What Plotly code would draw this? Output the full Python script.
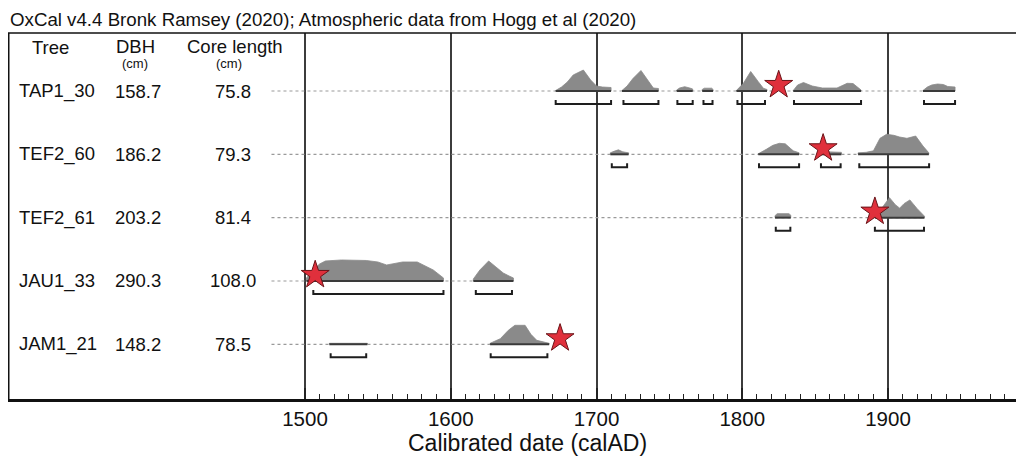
import plotly.graph_objects as go

# ---------------- data ----------------
trees = ["TAP1_30", "TEF2_60", "TEF2_61", "JAU1_33", "JAM1_21"]
dbh = ["158.7", "186.2", "203.2", "290.3", "148.2"]
core_length = ["75.8", "79.3", "81.4", "108.0", "78.5"]
star_year = [1825, 1855.5, 1891, 1507, 1675]
line_start = 1477
line_end = [1946, 1928, 1925, 1643, 1667.5]

# probability distributions (calendar year, relative density)
tap1_d1_x = [1672, 1676, 1680, 1684, 1691, 1696, 1700, 1704, 1710]
tap1_d1_h = [0.5, 4, 9, 16, 21, 11, 5, 4, 3.5]
tap1_d2_x = [1717.5, 1721, 1725, 1730.5, 1735.5, 1739, 1742.5]
tap1_d2_h = [0.5, 5, 12.5, 20.5, 10, 3, 2.5]
tap1_d3_x = [1755, 1757, 1760.5, 1764, 1766]
tap1_d3_h = [1, 3, 4.3, 3, 2]
tap1_d4_x = [1772.5, 1774, 1776.5, 1779, 1780]
tap1_d4_h = [1.5, 2.8, 3, 2.8, 1.5]
tap1_d5_x = [1796, 1800.8, 1805.8, 1811, 1814.5, 1817]
tap1_d5_h = [0.5, 7.7, 19.5, 9.3, 2.7, 1.5]
tap1_d6_x = [1835, 1838, 1842, 1848, 1855, 1865, 1870, 1872, 1876, 1879, 1881.5]
tap1_d6_h = [0.5, 6, 8.5, 5, 3, 3, 6, 7.7, 7.5, 4, 1]
tap1_d7_x = [1924, 1927, 1930, 1934, 1938, 1941, 1946]
tap1_d7_h = [0.5, 4, 6, 7, 6.5, 4.5, 4]

tef60_d1_x = [1709.5, 1712, 1715, 1718, 1722]
tef60_d1_h = [1.5, 3, 4.5, 2.5, 1.5]
tef60_d2_x = [1811, 1816.5, 1821, 1825.5, 1829.5, 1833, 1835, 1839]
tef60_d2_h = [0.5, 5, 9, 11, 10.5, 6, 3.5, 1.5]
tef60_d3_x = [1854, 1858, 1862, 1866, 1868]
tef60_d3_h = [1.5, 2.5, 2.5, 2.5, 2]
tef60_d4_x = [1879.5, 1885, 1890, 1894.5, 1899, 1904, 1908, 1913, 1919, 1924, 1928]
tef60_d4_h = [1.5, 2, 3.5, 16, 20, 19, 17.3, 16, 18.3, 8.3, 1.5]

tef61_d1_x = [1822.5, 1824, 1828, 1832, 1833.3]
tef61_d1_h = [2, 4, 4.3, 4, 2.5]
tef61_d2_x = [1891, 1895, 1901, 1905, 1908, 1911, 1915, 1920, 1925]
tef61_d2_h = [2, 8, 20, 13, 9.5, 14, 17.7, 9, 1.5]

jau_d1_x = [1501, 1505, 1510, 1514, 1525, 1542, 1550, 1556, 1562, 1567, 1577, 1583, 1588, 1595]
jau_d1_h = [3, 10, 17, 20, 21, 20.5, 19, 16, 18, 19, 19, 15, 11, 3]
jau_d2_x = [1615.5, 1620, 1626, 1631, 1636, 1640, 1643]
jau_d2_h = [2, 11, 20, 14, 8, 5, 3]

jam_d1_x = [1516.7, 1530, 1542.8]
jam_d1_h = [1, 1, 1]
jam_d2_x = [1627, 1634, 1639.5, 1644, 1651, 1655, 1659, 1667.5]
jam_d2_h = [1, 5.6, 14, 19, 19, 10, 4, 1]

# highest-probability ranges (start, end)
tap1_ranges = [(1672, 1710), (1718.5, 1742.5), (1755.5, 1766), (1773.4, 1779.6),
               (1796.7, 1815.6), (1835.5, 1881.5), (1924.7, 1946)]
tef60_ranges = [(1710.5, 1721), (1811.5, 1839), (1854, 1867.5), (1880.3, 1928.2)]
tef61_ranges = [(1823, 1833), (1891, 1924.7)]
jau_ranges = [(1505.7, 1595), (1617.2, 1642)]
jam_ranges = [(1517.6, 1542), (1627.4, 1666.3)]

major_ticks = [1500, 1600, 1700, 1800, 1900]
minor_ticks = [y for y in range(1510, 2000, 10) if y % 100 != 0]
title_text = "OxCal v4.4 Bronk Ramsey (2020); Atmospheric data from Hogg et al (2020)"
x_title = "Calibrated date (calAD)"

dists = [
    [(tap1_d1_x, tap1_d1_h), (tap1_d2_x, tap1_d2_h), (tap1_d3_x, tap1_d3_h), (tap1_d4_x, tap1_d4_h),
     (tap1_d5_x, tap1_d5_h), (tap1_d6_x, tap1_d6_h), (tap1_d7_x, tap1_d7_h)],
    [(tef60_d1_x, tef60_d1_h), (tef60_d2_x, tef60_d2_h), (tef60_d3_x, tef60_d3_h), (tef60_d4_x, tef60_d4_h)],
    [(tef61_d1_x, tef61_d1_h), (tef61_d2_x, tef61_d2_h)],
    [(jau_d1_x, jau_d1_h), (jau_d2_x, jau_d2_h)],
    [(jam_d1_x, jam_d1_h), (jam_d2_x, jam_d2_h)],
]
ranges = [tap1_ranges, tef60_ranges, tef61_ranges, jau_ranges, jam_ranges]

# ---------------- layout constants ----------------
OFF = 8                     # page body margin
W, H = 1016, 448
L, T = 0, 33 - OFF
B = H - (399 - OFF)
ROW_PX = 63.33
PX = 1.0 / ROW_PX
FONT = "Liberation Sans, Arial, Helvetica, sans-serif"
row_y = [5, 4, 3, 2, 1]


def xp(px):
    return (px - OFF - L) / (W - L)


def yp(py):
    return (H - B - (py - OFF)) / (H - B - T)


fig = go.Figure()

# dotted guide lines
for i in range(len(trees)):
    fig.add_trace(go.Scatter(x=[line_start, line_end[i]], y=[row_y[i], row_y[i]], mode="lines",
                             line=dict(color="#9a9a9a", width=1.2, dash="dot"),
                             hoverinfo="skip", showlegend=False))

# distributions
for i in range(len(trees)):
    base = row_y[i]
    for xs, hs in dists[i]:
        px_ = [xs[0]] + list(xs) + [xs[-1]]
        py_ = [base] + [base + h * PX for h in hs] + [base]
        fig.add_trace(go.Scatter(x=px_, y=py_, mode="lines", fill="toself",
                                 fillcolor="#8a8a8a", line=dict(color="#8a8a8a", width=0.8),
                                 hoverinfo="skip", showlegend=False))
        fig.add_trace(go.Scatter(x=[xs[0], xs[-1]], y=[base, base], mode="lines",
                                 line=dict(color="#3a3a3a", width=2),
                                 hoverinfo="skip", showlegend=False))

# range brackets
for i in range(len(trees)):
    yb = row_y[i] - 13 * PX
    yt = yb + 4 * PX
    bx, by = [], []
    for a, b in ranges[i]:
        bx += [a, a, b, b, None]
        by += [yt, yb, yb, yt, None]
    fig.add_trace(go.Scatter(x=bx, y=by, mode="lines", line=dict(color="#1e1e1e", width=2),
                             hoverinfo="skip", showlegend=False))

# stars
fig.add_trace(go.Scatter(x=star_year, y=[r + 6 * PX for r in row_y], mode="markers",
                         marker=dict(symbol="star", size=21, color="#e0303c",
                                     line=dict(color="#6a1418", width=1)),
                         hoverinfo="skip", showlegend=False))

# ---------------- annotations ----------------
TXT = 18.5
ann = []
ann.append(dict(text=title_text, x=xp(9), y=1 + T / (H - B - T), xanchor="left", yanchor="top",
                font=dict(size=18.7, color="#111")))
ann.append(dict(text="Tree", x=xp(50), y=yp(47), xanchor="center", yanchor="middle",
                font=dict(size=TXT, color="#111")))
ann.append(dict(text="DBH", x=xp(135), y=yp(46), xanchor="center", yanchor="middle",
                font=dict(size=TXT, color="#111")))
ann.append(dict(text="(cm)", x=xp(135), y=yp(64), xanchor="center", yanchor="middle",
                font=dict(size=13, color="#111")))
ann.append(dict(text="Core length", x=xp(235), y=yp(46), xanchor="center", yanchor="middle",
                font=dict(size=TXT, color="#111")))
ann.append(dict(text="(cm)", x=xp(229), y=yp(64), xanchor="center", yanchor="middle",
                font=dict(size=13, color="#111")))
for i in range(len(trees)):
    ann.append(dict(text=trees[i], x=xp(18), y=row_y[i], yref="y", xanchor="left", yanchor="middle",
                    font=dict(size=TXT, color="#111")))
    ann.append(dict(text=dbh[i], x=xp(138), y=row_y[i], yref="y", xanchor="center", yanchor="middle",
                    font=dict(size=TXT, color="#111")))
    ann.append(dict(text=core_length[i], x=xp(233), y=row_y[i], yref="y", xanchor="center",
                    yanchor="middle", font=dict(size=TXT, color="#111")))
ann.append(dict(text=x_title, x=xp(527), y=yp(443), xanchor="center", yanchor="middle",
                font=dict(size=23, color="#111")))
for a in ann:
    a.setdefault("xref", "paper")
    a.setdefault("yref", "paper")
    a["showarrow"] = False
    a["borderpad"] = 0
fig.update_layout(annotations=ann)

# frame lines (top and left)
fig.add_shape(type="line", xref="paper", yref="paper", x0=0, x1=1, y0=1, y1=1,
              line=dict(color="#111", width=1.5))
fig.add_shape(type="line", xref="paper", yref="paper", x0=0, x1=0, y0=0, y1=1,
              line=dict(color="#111", width=3))

px_per_year = 1.4575
x_left = 1500 - (305 - OFF - L) / px_per_year
x_right = 1500 + (OFF + W - 305) / px_per_year
y_bottom = row_y[-1] - (399 - 344.3) * PX
y_top = row_y[0] + (91 - 33) * PX

fig.update_layout(
    width=W, height=H,
    margin=dict(l=L, r=0, t=T, b=B, pad=0),
    paper_bgcolor="white", plot_bgcolor="white",
    font=dict(family=FONT, color="#111"),
    xaxis=dict(range=[x_left, x_right], tickvals=major_ticks, ticktext=[str(v) for v in major_ticks],
               ticks="inside", ticklen=11, tickwidth=2, tickcolor="#222",
               showgrid=True, gridcolor="#3c3c3c", gridwidth=1.5,
               showline=True, linecolor="#111", linewidth=2.5, zeroline=False,
               tickfont=dict(size=20.5, color="#111"),
               minor=dict(tickmode="array", tickvals=minor_ticks, ticks="inside", ticklen=5,
                          tickwidth=1.2, tickcolor="#222", showgrid=False),
               fixedrange=True),
    yaxis=dict(range=[y_bottom, y_top], showgrid=False, zeroline=False, showticklabels=False,
               ticks="", showline=False, fixedrange=True),
)

fig.write_html("out.html")
